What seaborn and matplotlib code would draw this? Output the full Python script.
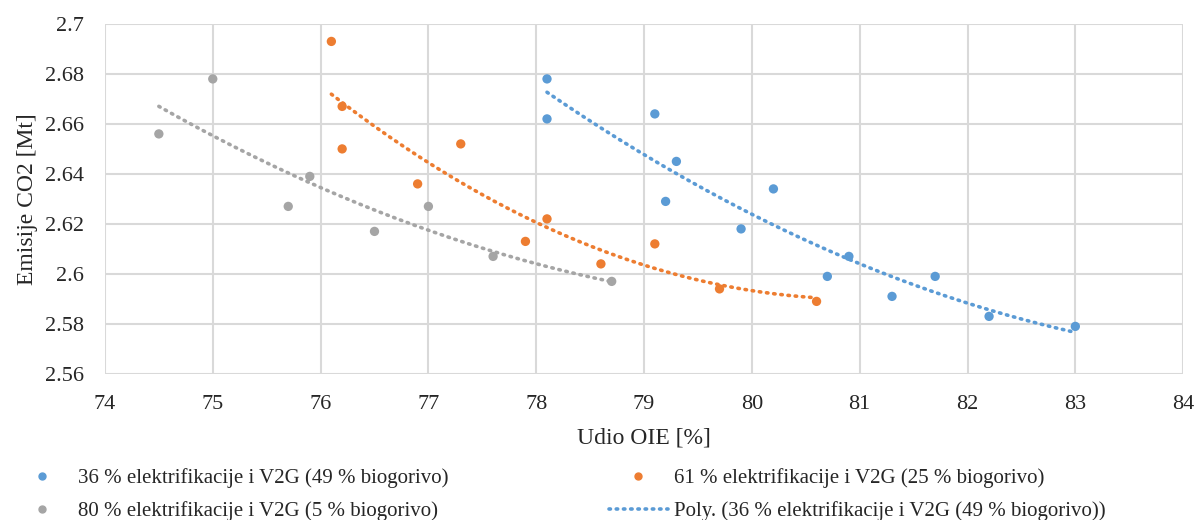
import matplotlib.pyplot as plt
import numpy as np
import pandas as pd
import seaborn as sns

# data
blue_x = [78.1, 78.1, 79.1, 79.3, 79.2, 79.9, 80.2, 80.9, 80.7, 81.3, 81.7, 82.2, 83.0]
blue_y = [2.678, 2.662, 2.664, 2.645, 2.629, 2.618, 2.634, 2.607, 2.599, 2.591, 2.599, 2.583, 2.579]
orange_x = [76.1, 76.2, 76.2, 76.9, 77.3, 77.9, 78.1, 78.6, 79.1, 79.7, 80.6]
orange_y = [2.693, 2.667, 2.650, 2.636, 2.652, 2.613, 2.622, 2.604, 2.612, 2.594, 2.589]
gray_x = [74.5, 75.0, 75.7, 75.9, 76.5, 77.0, 77.6, 78.7]
gray_y = [2.656, 2.678, 2.627, 2.639, 2.617, 2.627, 2.607, 2.597]

labels = ["36 % elektrifikacije i V2G (49 % biogorivo)",
          "61 % elektrifikacije i V2G (25 % biogorivo)",
          "80 % elektrifikacije i V2G (5 % biogorivo)"]
colors = ["#5B9BD5", "#ED7D31", "#A5A5A5"]

df = pd.concat([
    pd.DataFrame({"x": blue_x, "y": blue_y, "serie": labels[0]}),
    pd.DataFrame({"x": orange_x, "y": orange_y, "serie": labels[1]}),
    pd.DataFrame({"x": gray_x, "y": gray_y, "serie": labels[2]}),
])

sns.set_style("white")
plt.rcParams['font.family'] = ['Liberation Serif', 'DejaVu Serif']

fig = plt.figure(figsize=(11.98, 5.2), dpi=100)
ax = fig.add_axes([0.0876, 0.281, 0.9, 0.673])

ax.grid(True, color="#D9D9D9", lw=1.5)
ax.set_axisbelow(True)
for s in ax.spines.values():
    s.set_visible(False)

dots = (0, (0.4, 1.6))
# polynomial trendlines (order 2), like excel
for lab, col in zip(labels, colors):
    sub = df[df["serie"] == lab]
    c = np.polyfit(sub["x"], sub["y"], 2)
    xs = np.linspace(sub["x"].min(), sub["x"].max(), 200)
    ax.plot(xs, np.polyval(c, xs), color=col, lw=2.6, linestyle=dots,
            dash_capstyle="round", zorder=2)

sns.scatterplot(data=df, x="x", y="y", hue="serie", palette=colors, hue_order=labels,
                s=45, linewidth=0, ax=ax, legend=False, zorder=3)

ax.set_xlim(74, 84)
ax.set_ylim(2.56, 2.7)
ax.set_xticks(np.arange(74, 85, 1))
ax.set_yticks(np.round(np.arange(2.56, 2.701, 0.02), 2))
ax.set_yticklabels(["2.56", "2.58", "2.6", "2.62", "2.64", "2.66", "2.68", "2.7"])
ax.tick_params(labelsize=16, length=0)
ax.tick_params(axis="x", pad=15)
ax.tick_params(axis="y", pad=15)
ax.set_xlabel("Udio OIE [%]", fontsize=17, labelpad=10)
ax.set_ylabel("Emisije CO2 [Mt]", fontsize=17, labelpad=5)

h = [plt.Line2D([], [], marker="o", ls="", color=c, ms=5) for c in colors]
poly = plt.Line2D([], [], color=colors[0], lw=2.6, linestyle=dots, dash_capstyle="round")
fig.legend([h[0], h[2], h[1], poly],
           [labels[0], labels[2], labels[1], "Poly. (" + labels[0] + ")"],
           ncol=2, loc="upper left", bbox_to_anchor=(0.004, 0.115), frameon=False,
           fontsize=15, handlelength=2.8, handletextpad=0.33, columnspacing=7.7,
           labelspacing=0.62, borderaxespad=0)

fig.savefig("out.png", dpi=100)
